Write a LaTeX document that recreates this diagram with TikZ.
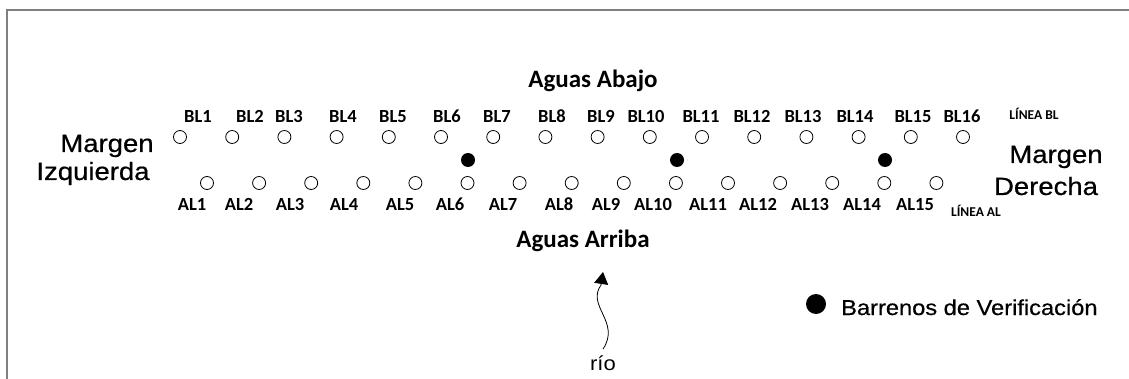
\documentclass[tikz,border=0pt]{standalone}
\usepackage{fontspec}
\usetikzlibrary{arrows.meta}
\newfontfamily\margfont{Liberation Sans}[FakeStretch=1.1, FakeBold=0.5]
\newfontfamily\riofont{Liberation Sans}[FakeStretch=1.1]
\newfontfamily\lblfont{Carlito}
\tikzset{
	hole/.style={circle, draw, line width=0.8pt, minimum size=13pt, inner sep=0pt},
	testhole/.style={circle, fill=black, minimum size=14pt, inner sep=0pt},
	holelbl/.style={anchor=base, inner sep=0pt, font=\lblfont\bfseries\fontsize{18.5}{20}\selectfont},
	linelbl/.style={anchor=base, inner sep=0pt, font=\lblfont\bfseries\fontsize{13.5}{15}\selectfont},
	bank/.style={anchor=base, inner sep=0pt, font=\margfont\fontsize{25}{30}\selectfont},
	side/.style={anchor=base, inner sep=0pt, font=\lblfont\bfseries\fontsize{25}{30}\selectfont},
	frame/.style={draw=black!50, line width=2pt},
	river/.style={line width=0.8pt, -{Triangle[length=12pt,width=14pt]}}
}

\begin{document}
\begin{tikzpicture}[x=1pt, y=-1pt]
			%%%%% START %%%%%
			\useasboundingbox (0,0) rectangle (1129,379);
			\draw[frame] (1129,10) -- (7,10) -- (7,379);
			
			% banks and sides
			\node[bank] (izq1) at (107,152) {Margen};
			\node[bank] (izq2) at (93,180) {Izquierda};
			\node[bank] (der1) at (1056,163) {Margen};
			\node[bank] (der2) at (1046,195) {Derecha};
			\node[side] (abajo) at (593,88) {Aguas Abajo};
			\node[side] (arriba) at (583,248) {Aguas Arriba};
			
			% line BL
			\foreach \i in {1,...,16}
				\node[hole] (bl\i) at ({180+52.2*(\i-1)},137) {};
			\foreach \x/\i in {198/1,250/2,289/3,343/4,393/5,447/6,497/7,552/8,601/9,646/10,701/11,752/12,803/13,855/14,913/15,962/16}
				\node[holelbl] (blt\i) at (\x,123) {BL\i};
			\node[linelbl] (linbl) at (1034,120) {LÍNEA BL};
			
			% line AL
			\foreach \i in {1,...,15}
				\node[hole] (al\i) at ({207+52.1*(\i-1)},183) {};
			\foreach \x/\i in {192/1,239/2,290/3,344/4,400/5,450/6,503/7,559/8,606/9,653/10,708/11,758/12,810/13,862/14,915/15}
				\node[holelbl] (alt\i) at (\x,211) {AL\i};
			\node[linelbl] (linal) at (976,217) {LÍNEA AL};
			
			% check holes
			\node[testhole] (v1) at (468,160) {};
			\node[testhole] (v2) at (677,160) {};
			\node[testhole] (v3) at (885,160) {};
			
			% legend
			\node[testhole, minimum size=20pt] (key) at (816,304) {};
			\node[bank, anchor=base west, font=\margfont\fontsize{21.5}{26}\selectfont] (keytxt) at (841,315) {Barrenos de Verificación};
			
			% river
			\node[bank, font=\riofont\fontsize{20}{24}\selectfont] (rio) at (603,370) {río};
			\coordinate (flow) at (603,272);
			\draw[river] ([yshift=6pt]rio.north) .. controls (621,322) and (586,306) .. (601,285) -- (flow);
			%%%%% END %%%%%
\end{tikzpicture}
\end{document}
